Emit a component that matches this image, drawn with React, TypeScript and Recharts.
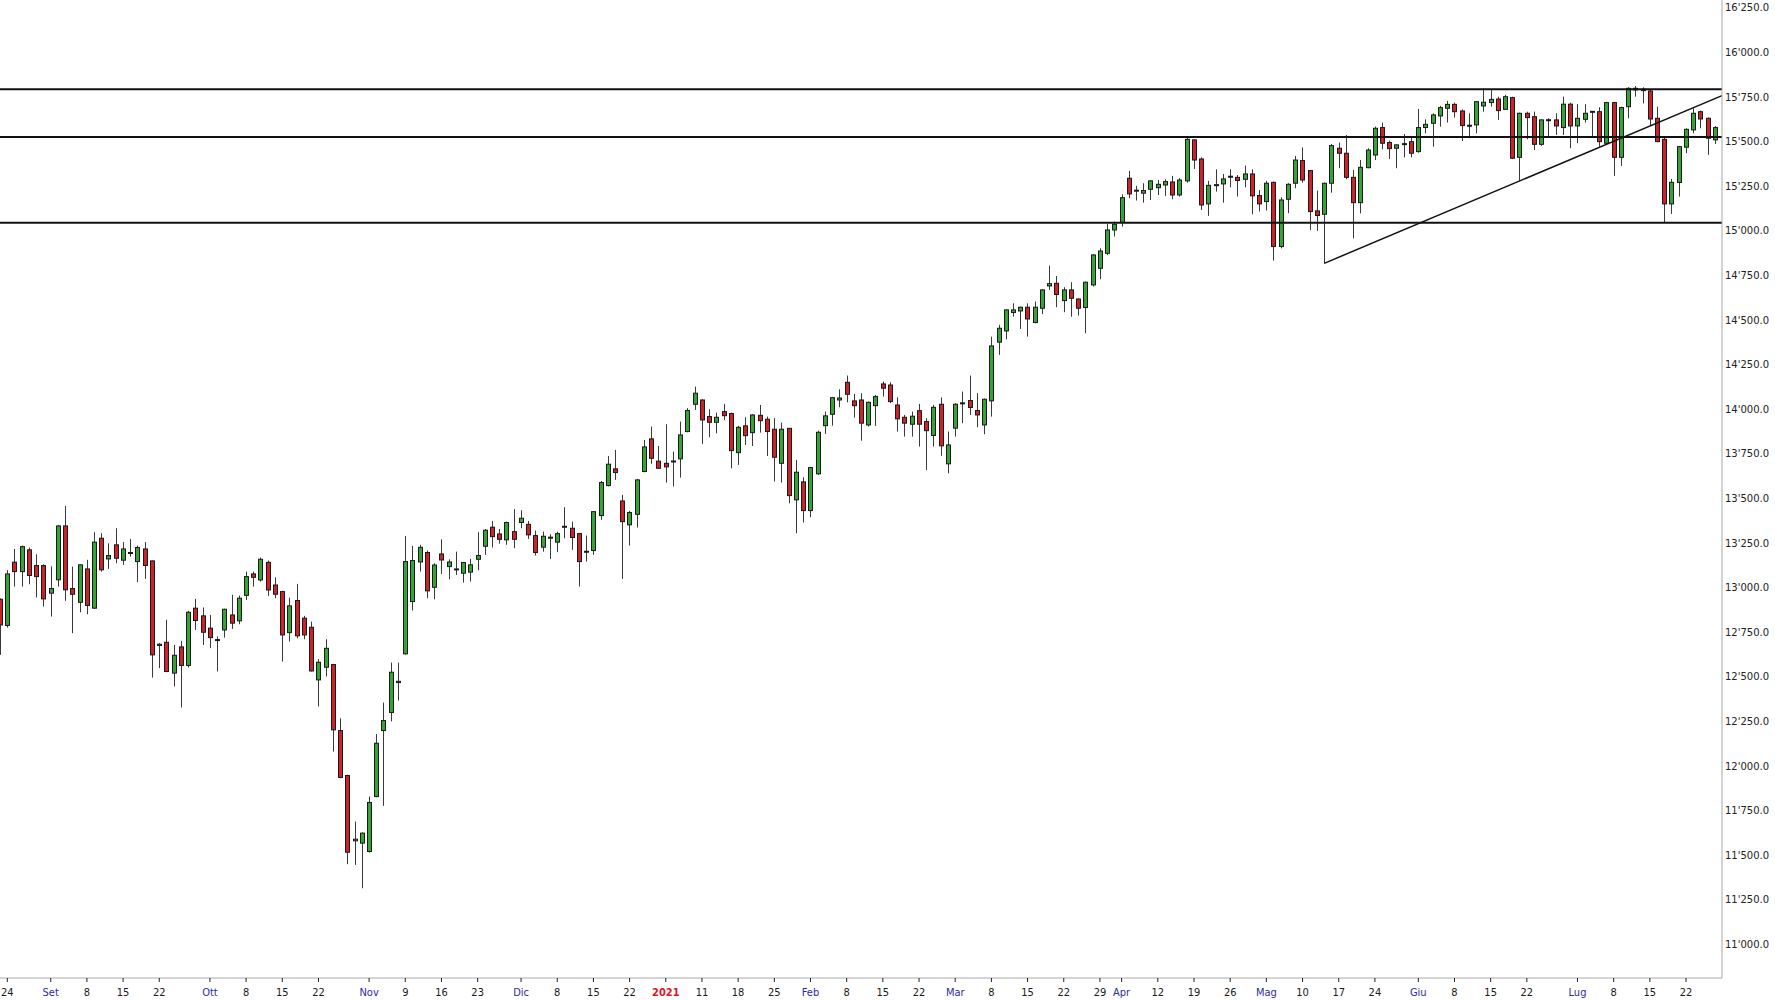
import { ComposedChart, Bar, XAxis, YAxis, ReferenceLine } from 'recharts';

document.body.style.margin = '0';

// first candle is the one cut at the left edge (21 ago 2020), index -1
const firstIndex = -1;

const opens = [
  12935,
  12788, 13143, 13090, 13212, 13124, 13124, 12969, 13044, 13346, 12995,
  12918, 13105, 12885, 13277, 13161, 13240, 13154, 13193, 13146, 13217,
  13150, 12676, 12694, 12521, 12668, 12564, 12885, 12842, 12773, 12706,
  12763, 12847, 12814, 12957, 13077, 13043, 13142, 13015, 12978, 12748,
  12928, 12829, 12778, 12483, 12554, 12569, 12199, 11947, 11581, 11568,
  11521, 11829, 12199, 12300, 12468, 12629, 12922, 13144, 13197, 13002,
  13189, 13118, 13101, 13081, 13087, 13159, 13232, 13339, 13301, 13268,
  13314, 13365, 13355, 13292, 13227, 13277, 13255, 13341, 13333, 13303,
  13200, 13208, 13404, 13572, 13666, 13486, 13352, 13411, 13651, 13834,
  13709, 13697, 13707, 13722, 13875, 14028, 14052, 13959, 13927, 13987,
  13976, 13757, 13907, 13869, 13966, 13944, 13888, 13697, 13893, 13492,
  13593, 13432, 13638, 13908, 13972, 14052, 14151, 14047, 14052, 13912,
  14020, 14142, 14136, 14024, 13955, 13916, 13992, 13931, 13853, 14028,
  13694, 13894, 14032, 14049, 13993, 13912, 14047, 14376, 14439, 14542,
  14551, 14572, 14486, 14566, 14691, 14706, 14609, 14669, 14618, 14570,
  14697, 14790, 14874, 15005, 15048, 15295, 15228, 15211, 15233, 15242,
  15257, 15274, 15201, 15280, 15510, 15403, 15151, 15255, 15263, 15302,
  15300, 15289, 15319, 15198, 15164, 15272, 14912, 15177, 15267, 15394,
  15338, 15112, 15093, 15267, 15463, 15435, 15300, 15158, 15354, 15425,
  15579, 15495, 15463, 15485, 15500, 15444, 15579, 15603, 15644, 15687,
  15709, 15672, 15588, 15594, 15700, 15719, 15739, 15681, 15747, 15412,
  15659, 15640, 15485, 15623, 15622, 15579, 15710, 15588, 15625, 15667,
  15668, 15491, 15719, 15412, 15696, 15799, 15794, 15784, 15631, 15513,
  15151, 15271, 15469, 15566, 15668, 15631, 15510,
];

const highs = [
  12940,
  13098, 13217, 13236, 13225, 13187, 13131, 13120, 13352, 13458, 13118,
  13131, 13156, 13311, 13305, 13249, 13333, 13255, 13273, 13236, 13255,
  13152, 12689, 12820, 12679, 12702, 12870, 12937, 12889, 12847, 12726,
  12882, 12960, 12956, 13090, 13090, 13169, 13152, 13058, 12982, 12944,
  13021, 12842, 12810, 12599, 12711, 12573, 12268, 11951, 11689, 11628,
  11829, 12180, 12356, 12580, 12580, 13290, 13234, 13240, 13208, 13137,
  13271, 13159, 13202, 13144, 13161, 13311, 13329, 13374, 13329, 13370,
  13440, 13434, 13374, 13320, 13314, 13299, 13314, 13451, 13370, 13307,
  13292, 13430, 13598, 13738, 13772, 13520, 13430, 13610, 13828, 13903,
  13794, 13916, 13763, 13931, 14006, 14127, 14056, 14000, 13981, 14030,
  13981, 13907, 13955, 13972, 14024, 13959, 13950, 13925, 13895, 13716,
  13619, 13677, 13880, 13987, 14069, 14112, 14189, 14086, 14090, 14043,
  14080, 14155, 14151, 14067, 13968, 13987, 14030, 13950, 14024, 14066,
  13875, 14034, 14099, 14189, 14090, 14060, 14407, 14473, 14561, 14594,
  14575, 14594, 14604, 14673, 14805, 14747, 14684, 14712, 14622, 14716,
  14869, 14902, 15039, 15052, 15205, 15336, 15252, 15267, 15285, 15285,
  15289, 15308, 15295, 15523, 15513, 15412, 15280, 15345, 15319, 15345,
  15313, 15366, 15345, 15229, 15280, 15276, 15188, 15267, 15420, 15468,
  15341, 15226, 15270, 15487, 15495, 15537, 15341, 15397, 15463, 15584,
  15607, 15506, 15485, 15543, 15524, 15683, 15625, 15659, 15700, 15728,
  15719, 15681, 15659, 15728, 15799, 15790, 15752, 15762, 15752, 15663,
  15668, 15668, 15625, 15631, 15659, 15752, 15719, 15710, 15710, 15670,
  15693, 15723, 15723, 15696, 15805, 15812, 15805, 15790, 15696, 15525,
  15291, 15476, 15575, 15687, 15674, 15635, 15588,
];

const lows = [
  12623,
  12776, 13006, 13006, 13019, 12945, 12894, 12838, 13006, 12926, 12745,
  12862, 12851, 12881, 13090, 13105, 13137, 13128, 13174, 13031, 13049,
  12496, 12549, 12526, 12446, 12328, 12552, 12763, 12679, 12661, 12530,
  12720, 12769, 12795, 12931, 13006, 13034, 12954, 12941, 12586, 12698,
  12716, 12711, 12530, 12334, 12502, 12081, 11932, 11450, 11446, 11315,
  11515, 11825, 11777, 12250, 12367, 12625, 12872, 13090, 12941, 12935,
  13077, 13047, 13071, 13028, 13034, 13098, 13184, 13225, 13247, 13240,
  13221, 13333, 13273, 13180, 13202, 13161, 13199, 13277, 13212, 13006,
  13146, 13184, 13380, 13568, 13604, 13049, 13236, 13337, 13647, 13694,
  13666, 13589, 13567, 13617, 13871, 13996, 13806, 13843, 13865, 13940,
  13669, 13688, 13800, 13794, 13869, 13738, 13595, 13589, 13473, 13305,
  13365, 13395, 13632, 13862, 13908, 14011, 14039, 13953, 13824, 13903,
  13907, 14071, 14034, 13875, 13847, 13847, 13791, 13660, 13791, 13739,
  13641, 13847, 13922, 13968, 13899, 13860, 13959, 14305, 14392, 14519,
  14450, 14407, 14482, 14533, 14669, 14572, 14544, 14519, 14525, 14426,
  14688, 14729, 14865, 14968, 15024, 15183, 15170, 15158, 15173, 15201,
  15196, 15177, 15192, 15270, 15347, 15117, 15084, 15220, 15158, 15244,
  15192, 15244, 15093, 15108, 15114, 14833, 14902, 15099, 15239, 15270,
  15005, 15000, 14818, 15214, 15351, 15289, 14958, 15098, 15351, 15397,
  15457, 15403, 15351, 15412, 15412, 15439, 15547, 15472, 15584, 15607,
  15635, 15504, 15519, 15547, 15668, 15696, 15622, 15678, 15403, 15280,
  15513, 15453, 15476, 15532, 15538, 15538, 15463, 15491, 15607, 15528,
  15472, 15487, 15308, 15364, 15631, 15752, 15715, 15588, 15497, 15046,
  15095, 15192, 15435, 15547, 15575, 15426, 15487,
];

const closes = [
  12791,
  13077, 13090, 13230, 13068, 13062, 12937, 12995, 13346, 12988, 12963,
  13128, 12900, 13255, 13100, 13180, 13165, 13217, 13197, 13225, 13124,
  12623, 12683, 12530, 12621, 12564, 12862, 12816, 12750, 12720, 12709,
  12879, 12801, 12941, 13062, 13058, 13159, 12987, 12963, 12735, 12898,
  12730, 12735, 12533, 12582, 12660, 12203, 11936, 11517, 11590, 11624,
  11796, 12128, 12255, 12526, 12475, 13146, 13152, 13226, 12982, 13127,
  13155, 13144, 13105, 13141, 13128, 13180, 13322, 13286, 13271, 13365,
  13271, 13389, 13296, 13197, 13288, 13283, 13303, 13344, 13281, 13146,
  13204, 13426, 13589, 13692, 13645, 13370, 13421, 13604, 13789, 13725,
  13669, 13677, 13710, 13856, 13993, 14090, 13940, 13927, 13955, 13964,
  13768, 13899, 13852, 13968, 13936, 13875, 13731, 13888, 13516, 13647,
  13432, 13673, 13871, 13963, 14065, 14063, 14084, 14020, 13922, 14039,
  14071, 14118, 14043, 13946, 13922, 13961, 13916, 13880, 14011, 13795,
  13800, 14028, 14036, 14010, 13968, 14056, 14355, 14454, 14557, 14557,
  14572, 14506, 14572, 14669, 14704, 14643, 14669, 14622, 14566, 14712,
  14865, 14887, 15005, 15037, 15186, 15207, 15224, 15226, 15280, 15261,
  15276, 15201, 15285, 15513, 15397, 15145, 15255, 15259, 15291, 15306,
  15282, 15319, 15196, 15151, 15267, 14912, 15173, 15261, 15397, 15285,
  15108, 15086, 15267, 15478, 15435, 15300, 15158, 15356, 15453, 15575,
  15491, 15461, 15482, 15489, 15435, 15579, 15597, 15650, 15691, 15709,
  15668, 15590, 15592, 15724, 15721, 15737, 15674, 15752, 15407, 15659,
  15635, 15485, 15622, 15620, 15588, 15710, 15588, 15631, 15659, 15670,
  15500, 15719, 15412, 15691, 15799, 15790, 15786, 15627, 15500, 15151,
  15272, 15472, 15569, 15659, 15627, 15519, 15579,
];

// x-axis labels (index of trading day -> text)
const tickIdx = [
  0, 6, 11, 16, 21, 28, 33, 38, 43, 50, 55, 60, 65, 71, 76, 81, 86,
  91, 96, 101, 106, 111, 116, 121, 126, 131, 136, 141, 146, 151, 154,
  159, 164, 169, 174, 179, 184, 189, 195, 200, 205, 210, 217, 222, 227, 232,
];
const tickText = [
  '24', 'Set', '8', '15', '22', 'Ott', '8', '15', '22', 'Nov', '9', '16', '23', 'Dic', '8', '15', '22',
  '2021', '11', '18', '25', 'Feb', '8', '15', '22', 'Mar', '8', '15', '22', '29', 'Apr',
  '12', '19', '26', 'Mag', '10', '17', '24', 'Giu', '8', '15', '22', 'Lug', '8', '15', '22',
];
const monthNames = ['Set', 'Ott', 'Nov', 'Dic', 'Feb', 'Mar', 'Apr', 'Mag', 'Giu', 'Lug'];

const yTicks = [
  11000, 11250, 11500, 11750, 12000, 12250, 12500, 12750, 13000, 13250, 13500,
  13750, 14000, 14250, 14500, 14750, 15000, 15250, 15500, 15750, 16000, 16250,
];

// drawn levels
const levels = [15794, 15526, 15045];
const trendStart = { x: 182, y: 14818 };
const trendEnd = { x: 236.97, y: 15758 };

const data = opens.map((o, k) => ({
  i: k + firstIndex,
  open: o,
  high: highs[k],
  low: lows[k],
  close: closes[k],
  range: [lows[k], highs[k]],
}));

const fmtPrice = (v: number) => {
  const th = Math.floor(v / 1000);
  const rest = String(v % 1000).padStart(3, '0');
  return `${th}'${rest}.0`;
};

const Candle = (props: any) => {
  const { x, y, width, height, payload } = props;
  if (!payload || height == null) return null;
  const { open, close, high, low } = payload;
  const top = Math.min(y, y + height);
  const h = Math.abs(height);
  const cx = Math.round(x + width / 2) + 0.5;
  const k = high === low ? 0 : h / (high - low);
  const py = (v: number) => top + (high - v) * k;
  const up = close >= open;
  const bTop = py(Math.max(open, close));
  const bBot = py(Math.min(open, close));
  return (
    <g>
      <line x1={cx} x2={cx} y1={top} y2={top + h} stroke="#3a3a3a" strokeWidth={1} />
      <rect
        x={cx - 2}
        y={bTop}
        width={4}
        height={Math.max(bBot - bTop, 1)}
        fill={up ? '#36a336' : '#cc2229'}
        stroke="#1a1a1a"
        strokeWidth={1}
      />
    </g>
  );
};

const XTick = (props: any) => {
  const { x, y, payload } = props;
  const t = tickText[tickIdx.indexOf(payload.value)] ?? '';
  const isYear = t === '2021';
  const isMonth = monthNames.includes(t);
  return (
    <text
      x={x}
      y={y}
      dy={12}
      textAnchor="middle"
      fontSize={11}
      fontFamily="'Liberation Sans Narrow', 'DejaVu Sans Condensed', 'Liberation Sans', sans-serif"
      fontWeight={isYear ? 700 : 400}
      fill={isYear ? '#e0141e' : isMonth ? '#2a2aa8' : '#1a1a1a'}
    >
      {t}
    </text>
  );
};

export default function App() {
  return (
    <div style={{ width: 1775, height: 1000, background: '#fff' }}>
      <ComposedChart width={1775} height={1000} data={data} margin={{ top: 0, right: 0, bottom: 0, left: 0 }}>
        <XAxis
          dataKey="i"
          type="number"
          domain={[-1.01, 236.97]}
          allowDataOverflow
          ticks={tickIdx}
          interval={0}
          tick={<XTick />}
          tickSize={4}
          tickMargin={2}
          tickLine={{ stroke: '#222' }}
          axisLine={{ stroke: '#a8a8a8' }}
          height={22}
        />
        <YAxis
          orientation="right"
          type="number"
          domain={[10812, 16294]}
          allowDataOverflow
          ticks={yTicks}
          interval={0}
          width={53}
          tickSize={0}
          tickMargin={3}
          tickLine={false}
          axisLine={{ stroke: '#a8a8a8' }}
          tick={{ fontSize: 10, fill: '#222', fontFamily: 'DejaVu Sans' }}
          tickFormatter={fmtPrice}
        />
        <Bar dataKey="range" shape={Candle} barSize={5} isAnimationActive={false} />
        {levels.map(l => (
          <ReferenceLine key={l} y={l} stroke="#111" strokeWidth={2} />
        ))}
        <ReferenceLine segment={[trendStart, trendEnd]} stroke="#111" strokeWidth={1.5} />
      </ComposedChart>
    </div>
  );
}
